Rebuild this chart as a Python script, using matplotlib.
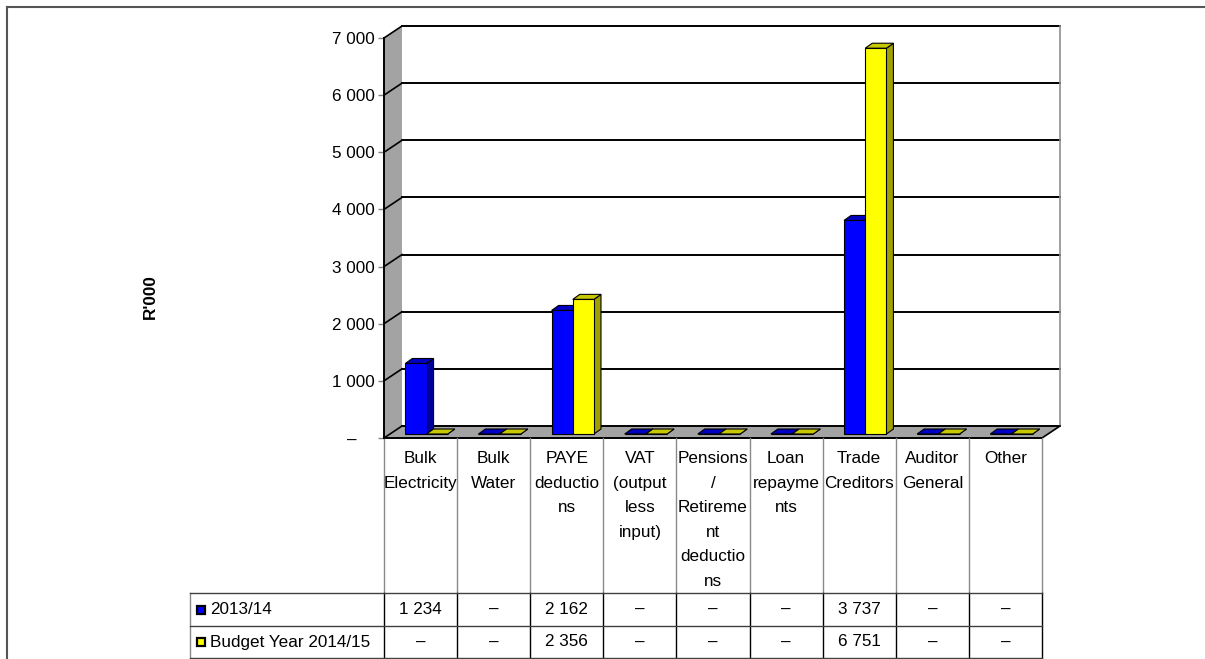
import numpy as np
import matplotlib.pyplot as plt
from matplotlib.patches import Polygon, Rectangle
from matplotlib.lines import Line2D
from matplotlib import font_manager

categories = ["Bulk\nElectricity", "Bulk\nWater", "PAYE\ndeductio\nns",
              "VAT\n(output\nless\ninput)",
              "Pensions\n/\nRetireme\nnt\ndeductio\nns",
              "Loan\nrepayme\nnts", "Trade\nCreditors", "Auditor\nGeneral", "Other"]
series_names = ["2013/14", "Budget Year 2014/15"]
vals_1314 = [1234, 0, 2162, 0, 0, 0, 3737, 0, 0]
vals_1415 = [0, 0, 2356, 0, 0, 0, 6751, 0, 0]
yticks = np.arange(0, 8000, 1000)

front_cols = ["#0000ff", "#ffff00"]
side_cols = ["#00009c", "#a0a000"]
top_cols = ["#0000c4", "#c8c800"]


def fmt(v):
    return "\u2013" if v == 0 else f"{v:,}".replace(",", " ")


names = {f.name for f in font_manager.fontManager.ttflist}
if "Liberation Sans Narrow" in names:
    fam, fs, lsp = "Liberation Sans Narrow", 14.3, 1.3
else:
    fam, fs, lsp = "Liberation Sans", 12.3, 1.8
plt.rcParams["font.family"] = [fam, "DejaVu Sans"]

W, H = 1205, 659
fig = plt.figure(figsize=(W / 100, H / 100), dpi=100)

# front plane of the 3d box (pixels)
L, R, B, T = 384, 1042, 438, 38
ax = fig.add_axes([L / W, 1 - B / H, (R - L) / W, (B - T) / H])
ax.set_xlim(-0.5, 8.5)
ax.set_ylim(0, 7000)
ux = (R - L) / 9
uy = (B - T) / 7000


def xp(p):
    return -0.5 + (p - L) / ux


def yp(p):
    return (B - p) / uy


DX, DY = 18 / ux, 12 / uy
gray = "#a3a3a3"

# floor and left wall
ax.add_patch(Polygon([(-0.5, 0), (8.5, 0), (8.5 + DX, DY), (-0.5 + DX, DY)],
                     closed=True, fc=gray, ec="none", clip_on=False, zorder=1))
ax.add_patch(Polygon([(-0.5, 0), (-0.5, 7000), (-0.5 + DX, 7000 + DY), (-0.5 + DX, DY)],
                     closed=True, fc=gray, ec="none", clip_on=False, zorder=1))
for v in yticks:
    ax.plot([-0.5 + DX, 8.5 + DX], [v + DY, v + DY], color="k", lw=1.4,
            clip_on=False, zorder=2)
    ax.plot([-0.5, -0.5 + DX], [v, v + DY], color="k", lw=1.2, clip_on=False, zorder=2)
ax.plot([8.5 + DX, 8.5 + DX], [DY, 7000 + DY], color="#909090", lw=1.2, clip_on=False, zorder=2)
ax.plot([8.5, 8.5 + DX], [0, DY], color="k", lw=1.2, clip_on=False, zorder=2)
ax.plot([-0.5, 8.5], [0, 0], color="k", lw=1.4, clip_on=False, zorder=2)

# bars
w = 0.29
bx, by = 6 / ux, 4 / uy
bdx, bdy = 7 / ux, 5 / uy
for i in range(len(categories)):
    for s, vals in enumerate([vals_1314, vals_1415]):
        v = vals[i]
        x0 = i - w + s * w + bx
        y0 = by
        side = [(x0 + w, y0), (x0 + w + bdx, y0 + bdy), (x0 + w + bdx, y0 + v + bdy), (x0 + w, y0 + v)]
        top = [(x0, y0 + v), (x0 + w, y0 + v), (x0 + w + bdx, y0 + v + bdy), (x0 + bdx, y0 + v + bdy)]
        ax.add_patch(Polygon(side, closed=True, fc=side_cols[s], ec="k", lw=0.8,
                             clip_on=False, zorder=3))
        ax.add_patch(Polygon(top, closed=True, fc=top_cols[s], ec="k", lw=0.8,
                             clip_on=False, zorder=3))
        ax.add_patch(Rectangle((x0, y0), w, v, fc=front_cols[s], ec="k", lw=0.8,
                               clip_on=False, zorder=3))

# y axis
for sp in ["top", "right", "bottom"]:
    ax.spines[sp].set_visible(False)
ax.spines["left"].set_color("k")
ax.spines["left"].set_linewidth(1.4)
ax.patch.set_alpha(0)
ax.set_xticks([])
ax.set_yticks(yticks)
ax.set_yticklabels([""] + [fmt(v) for v in yticks[1:]], fontsize=fs)
ax.tick_params(axis="y", length=4.3, width=1, color="#808080", pad=2.2)
ax.text(xp(357), yp(440), "\u2013", ha="right", va="center", fontsize=fs, clip_on=False)
fig.text(150 / W, 1 - 297 / H, "R'000", rotation=90, ha="center", va="center",
         fontsize=fs, fontweight="bold")

# data table
tl = xp(190)
hdr_top, r1, r2, r3 = 438, 593, 626, 658
for k in range(10):
    ax.plot([-0.5 + k, -0.5 + k], [yp(hdr_top), yp(r1)], color="#8a8a8a", lw=1,
            clip_on=False)
    ax.plot([-0.5 + k, -0.5 + k], [yp(r1), yp(r3)], color="k", lw=1, clip_on=False)
ax.plot([tl, tl], [yp(r1), yp(r3)], color="#8a8a8a", lw=1, clip_on=False)
for r in [r1, r2, r3]:
    ax.plot([tl, 8.5], [yp(r), yp(r)], color="#404040", lw=1, clip_on=False)

for i, c in enumerate(categories):
    ax.text(i, yp(451), c, ha="center", va="top", fontsize=fs, linespacing=lsp,
            clip_on=False)

key_w, key_h = 8 / ux, 8 / uy
for s, (name, vals, rt, rb) in enumerate(zip(series_names, [vals_1314, vals_1415],
                                            [r1, r2], [r2, r3])):
    yc = yp((rt + rb) / 2)
    ax.add_patch(Rectangle((xp(197), yp((rt + rb) / 2 + 4)), key_w, key_h,
                           fc=front_cols[s], ec="k", lw=1.6, clip_on=False))
    ax.text(xp(210), yc, name, ha="left", va="center", fontsize=fs, clip_on=False)
    for i, v in enumerate(vals):
        ax.text(i, yc, fmt(v), ha="center", va="center", fontsize=fs, clip_on=False)

# outer frame
fig.add_artist(Line2D([7 / W, 1], [1 - 7 / H, 1 - 7 / H], color="#555555", lw=1.5))
fig.add_artist(Line2D([7 / W, 7 / W], [0, 1 - 7 / H], color="#555555", lw=1.5))

fig.savefig("out.png", dpi=100)
